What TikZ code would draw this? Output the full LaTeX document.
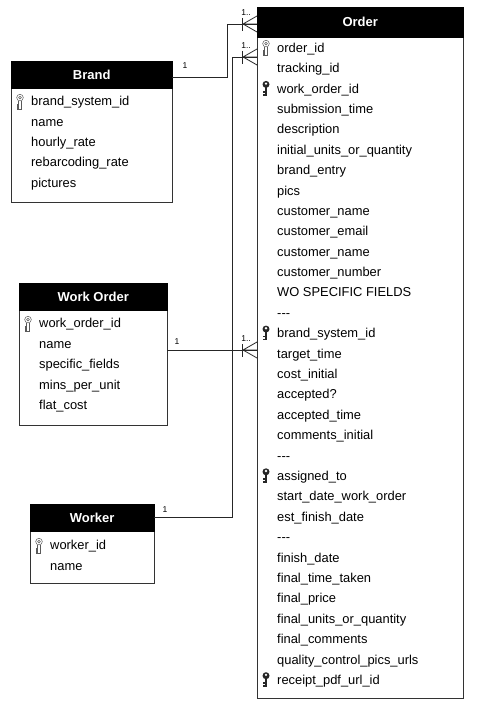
\documentclass[tikz,border=0pt]{standalone}
\usepackage{fontspec}
\setmainfont{Liberation Sans}
\usetikzlibrary{positioning}

\tikzset{
  tablebox/.style={draw=black!80, line width=0.8pt, anchor=north west, inner sep=0pt},
  tablehead/.style={fill=black, draw=black, text=white, anchor=north west, inner sep=0pt,
    font=\bfseries\fontsize{13}{15}\selectfont},
  field/.style={anchor=base west, inner sep=0pt, font=\fontsize{12.9}{15}\selectfont},
  card/.style={inner sep=0pt, font=\fontsize{8.5}{10}\selectfont},
  link/.style={draw=black!85, line width=0.8pt},
  pkey/.pic={
    \draw[black!65, line width=0.5pt] (0,3.6) circle (3.3);
    \draw[black!65, line width=0.5pt] (0,3.6) circle (1.4);
    \draw[black!65, line width=0.5pt, fill=white] (-1.3,6.9) -- (-1.3,15) -- (-3.2,15) -- (-3.2,13.2)
      -- (-2.2,13.2) -- (-2.2,12) -- (-3.2,12) -- (-3.2,10.4) -- (-1.3,10.4) (1.3,6.9) -- (1.3,15) -- (-1.3,15);
  },
  fkey/.pic={
    \fill[black!85] (0,3.6) circle (3.5);
    \fill[white] (0,2.8) circle (1.3);
    \fill[black!85] (-1.4,6) rectangle (1.4,15);
    \fill[black!85] (-3.3,10.3) rectangle (-1.4,11.8);
    \fill[black!85] (-3.3,13.3) rectangle (-1.4,15);
  },
  crowfoot/.pic={
    \draw[black!85, line width=0.8pt] (-14,0) -- (0,-8) (-14,0) -- (0,0) (-14,0) -- (0,8);
    \draw[black!85, line width=0.8pt] (-15,-6) -- (-15,7);
    \node[card] at (-11,-11) {1..};
  }
}

\begin{document}
\begin{tikzpicture}[x=1pt,y=-1pt]
\useasboundingbox (0,0) rectangle (478,711);

% Order
\node[tablebox, minimum width=206pt, minimum height=691pt] (order box) at (257,7) {};
\node[tablehead, minimum width=206pt, minimum height=30pt] (order head) at (257,7) {Order};
\foreach \k/\f [count=\i] in {p/order\_id, n/tracking\_id, f/work\_order\_id, n/submission\_time,
    n/description, n/initial\_units\_or\_quantity, n/brand\_entry, n/pics, n/customer\_name,
    n/customer\_email, n/customer\_name, n/customer\_number, n/WO SPECIFIC FIELDS, n/-{}-{}-,
    f/brand\_system\_id, n/target\_time, n/cost\_initial, n/accepted?, n/accepted\_time,
    n/comments\_initial, n/-{}-{}-, f/assigned\_to, n/start\_date\_work\_order, n/est\_finish\_date,
    n/-{}-{}-, n/finish\_date, n/final\_time\_taken, n/final\_price, n/final\_units\_or\_quantity,
    n/final\_comments, n/quality\_control\_pics\_urls, f/receipt\_pdf\_url\_id} {
  \node[field] (order f\i) at (277,{52.3+(\i-1)*20.39}) {\f};
  \if p\k \pic at (266,{40+(\i-1)*20.39}) {pkey}; \fi
  \if f\k \pic at (266,{40+(\i-1)*20.39}) {fkey}; \fi
}

% Brand
\node[tablebox, minimum width=161pt, minimum height=141pt] (brand box) at (11,61) {};
\node[tablehead, minimum width=161pt, minimum height=27pt] (brand head) at (11,61) {Brand};
\foreach \k/\f [count=\i] in {p/brand\_system\_id, n/name, n/hourly\_rate, n/rebarcoding\_rate, n/pictures} {
  \node[field] (brand f\i) at (31,{105.8+(\i-1)*20.4}) {\f};
  \if p\k \pic at (20,{94+(\i-1)*20.4}) {pkey}; \fi
}

% Work Order
\node[tablebox, minimum width=148pt, minimum height=142pt] (wo box) at (19,283) {};
\node[tablehead, minimum width=148pt, minimum height=27pt] (wo head) at (19,283) {Work Order};
\foreach \k/\f [count=\i] in {p/work\_order\_id, n/name, n/specific\_fields, n/mins\_per\_unit, n/flat\_cost} {
  \node[field] (wo f\i) at (39,{327.8+(\i-1)*20.4}) {\f};
  \if p\k \pic at (28,{316+(\i-1)*20.4}) {pkey}; \fi
}

% Worker
\node[tablebox, minimum width=124pt, minimum height=79pt] (worker box) at (30,504) {};
\node[tablehead, minimum width=124pt, minimum height=27pt] (worker head) at (30,504) {Worker};
\foreach \k/\f [count=\i] in {p/worker\_id, n/name} {
  \node[field] (worker f\i) at (50,{549.8+(\i-1)*20.4}) {\f};
  \if p\k \pic at (39,{538+(\i-1)*20.4}) {pkey}; \fi
}

% links
\coordinate (order in1) at (257,24);
\coordinate (order in2) at (257,57);
\coordinate (order in3) at (257,350);
\coordinate (wo out) at (167,350);

\draw[link] ([yshift=-2.5pt]brand head.east) -- ++(55,0) |- (order in1);
\draw[link] (worker head.east) -- ++(78,0) |- (order in2);
\draw[link] (wo out) -- (order in3);

\pic at (order in1) {crowfoot};
\pic at (order in2) {crowfoot};
\pic at (order in3) {crowfoot};

\node[card] (brand one) at (185,66) {1};
\node[card] (wo one) at (177,342) {1};
\node[card] (worker one) at (165,510) {1};
\end{tikzpicture}
\end{document}
